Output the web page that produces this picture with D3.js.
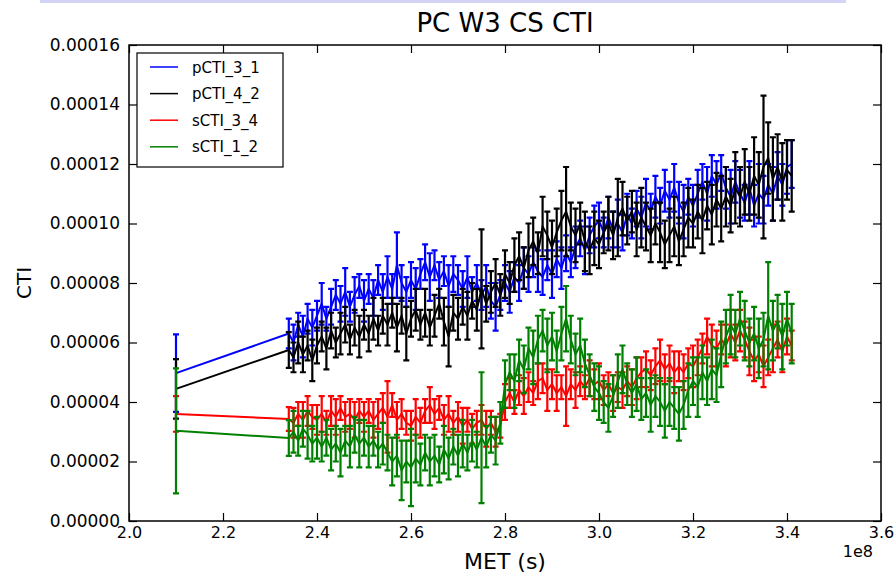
<!DOCTYPE html>
<html>
<head>
<meta charset="utf-8">
<script src="https://cdn.jsdelivr.net/npm/d3@7"></script>
<style>
body { margin: 0; background: #fff; }
text { font-family: "DejaVu Sans", sans-serif; fill: #000; }
</style>
</head>
<body>
<svg width="894" height="574"></svg>
<script>
// MET in units of 1e8 s, CTI values and error bars in units of 1e-5
const met = [2.10,
  2.34,2.35,2.36,2.37,2.38,2.39,2.40,2.41,2.42,2.43,
  2.44,2.45,2.46,2.47,2.48,2.49,2.50,2.51,2.52,2.53,
  2.54,2.55,2.56,2.57,2.58,2.59,2.60,2.61,2.62,2.63,
  2.64,2.65,2.66,2.67,2.68,2.69,2.70,2.71,2.72,2.73,
  2.74,2.75,2.76,2.77,2.78,2.79,2.80,2.81,2.82,2.83,
  2.84,2.85,2.86,2.87,2.88,2.89,2.90,2.91,2.92,2.93,
  2.94,2.95,2.96,2.97,2.98,2.99,3.00,3.01,3.02,3.03,
  3.04,3.05,3.06,3.07,3.08,3.09,3.10,3.11,3.12,3.13,
  3.14,3.15,3.16,3.17,3.18,3.19,3.20,3.21,3.22,3.23,
  3.24,3.25,3.26,3.27,3.28,3.29,3.30,3.31,3.32,3.33,
  3.34,3.35,3.36,3.37,3.38,3.39,3.40,3.41];

const pCTI_3_1 = [4.97,
  6.3,6.0,6.6,6.2,6.8,6.5,6.9,7.3,6.8,7.2,
  7.6,7.3,7.7,7.2,7.6,7.9,7.4,7.8,7.5,8.1,
  7.7,8.2,7.8,8.6,8.0,7.7,8.1,7.8,8.3,8.7,
  8.2,8.6,8.1,8.4,7.9,8.3,8.1,7.8,8.2,7.7,
  8.0,7.6,7.9,7.4,7.2,7.6,8.0,7.7,8.2,8.0,
  8.5,8.3,8.7,8.4,8.2,8.6,8.3,8.8,8.5,9.0,
  8.7,9.2,9.5,9.1,9.6,9.9,10.1,9.7,10.2,9.8,
  10.0,9.7,10.3,10.0,10.5,10.2,10.7,10.4,10.9,10.6,
  11.1,10.8,11.2,10.7,10.4,10.9,10.6,11.0,11.4,11.0,
  11.6,11.3,11.7,11.2,10.9,11.4,11.0,10.7,11.2,10.6,
  11.0,10.8,11.3,11.0,11.6,11.3,11.9,12.0];
const pCTI_3_1_err = [1.3,
  0.5,0.6,0.4,0.7,0.5,0.6,0.5,0.7,0.4,0.6,
  0.5,0.6,0.8,0.5,0.6,0.4,0.7,0.5,0.6,0.5,
  0.6,0.7,0.5,1.1,0.6,0.5,0.6,0.7,0.5,0.6,
  0.8,0.5,0.6,0.5,0.7,0.6,0.5,0.6,0.7,0.5,
  0.6,0.5,0.7,0.6,0.8,0.5,0.6,0.7,0.5,0.6,
  0.7,0.6,0.5,0.7,0.6,0.5,0.8,0.6,0.7,0.6,
  0.5,0.7,0.6,0.8,0.6,0.7,0.6,0.5,0.7,0.6,
  0.8,0.6,0.7,0.5,0.6,0.7,0.8,0.6,0.7,0.6,
  0.7,0.6,0.8,0.7,0.9,0.6,0.7,0.8,0.6,0.9,
  0.7,0.8,0.6,0.7,0.9,0.7,0.8,0.6,0.9,0.7,
  1.0,0.8,0.7,0.9,0.8,0.7,0.9,0.8];

const pCTI_4_2 = [4.44,
  5.75,5.5,6.0,5.6,5.9,5.4,5.9,6.2,5.8,6.4,
  6.0,6.3,6.6,6.1,6.5,6.2,6.6,6.3,6.8,6.4,
  6.9,6.6,7.0,6.5,6.9,6.3,6.8,7.1,6.6,7.0,
  6.5,6.9,7.3,6.7,6.2,7.0,6.8,7.2,6.9,7.4,
  7.1,7.8,7.3,7.7,8.0,7.6,8.3,8.0,8.6,8.9,
  8.5,9.1,9.4,9.0,9.9,9.6,9.2,9.7,10.1,10.4,
  9.9,9.6,10.0,9.4,9.1,9.5,9.3,9.7,10.0,9.6,
  10.2,10.5,10.1,10.4,9.8,10.2,9.9,9.6,10.0,9.7,
  9.3,9.6,9.9,9.4,9.8,10.2,10.0,10.4,10.1,10.6,
  10.3,10.8,10.5,10.9,10.6,11.2,10.9,11.4,11.0,11.6,
  11.3,11.9,12.2,11.5,11.9,11.4,11.8,11.6];
const pCTI_4_2_err = [1.0,
  0.6,0.5,0.7,0.6,0.5,0.7,0.6,0.5,0.7,0.6,
  0.5,0.7,0.6,0.5,0.6,0.7,0.5,0.6,0.7,0.5,
  0.6,0.7,0.5,0.8,0.6,0.9,0.6,0.7,0.5,0.8,
  0.6,0.7,0.5,0.8,1.0,0.6,0.7,0.6,0.8,0.6,
  0.7,2.0,0.6,0.7,0.8,0.7,0.8,0.7,0.9,0.8,
  0.7,0.9,0.8,0.7,1.0,0.8,0.9,0.8,1.0,1.5,
  0.8,0.9,0.7,1.0,0.8,0.9,0.8,0.7,0.9,0.8,
  1.3,0.9,0.8,0.7,0.9,1.0,0.8,0.9,0.7,1.0,
  0.8,0.9,1.0,0.8,0.9,1.0,0.8,0.9,1.1,0.8,
  1.0,0.9,1.1,1.0,0.9,1.2,1.0,1.1,0.9,1.3,
  1.1,2.4,1.2,1.4,1.1,1.3,1.0,1.2];

const sCTI_3_4 = [3.6,
  3.43,3.3,3.6,3.4,3.7,3.5,3.4,3.6,3.3,3.7,
  3.5,3.8,3.5,3.6,3.4,3.7,3.5,3.7,3.4,3.6,
  3.8,3.5,3.9,3.4,3.6,3.3,3.2,3.5,3.3,3.7,
  3.9,3.6,3.8,3.4,3.6,3.3,3.5,3.2,3.4,3.1,
  3.3,3.4,3.1,3.3,3.0,3.2,4.0,4.3,4.0,4.4,
  4.2,4.5,4.3,4.7,4.8,4.4,4.6,4.3,4.5,4.2,
  4.6,4.4,4.7,4.5,4.8,4.6,4.7,4.4,4.6,4.3,
  4.5,4.4,4.7,4.5,4.8,5.0,5.1,4.9,5.2,5.4,
  5.1,5.3,5.0,5.2,5.0,5.3,5.2,5.5,5.8,6.2,
  5.9,5.8,6.1,5.9,6.3,6.0,6.4,6.1,5.7,5.4,
  5.6,5.2,5.5,5.8,6.1,5.7,6.2,5.9];
const sCTI_3_4_err = [0.6,
  0.4,0.5,0.4,0.6,0.5,0.4,0.5,0.6,0.4,0.5,
  0.6,0.4,0.5,0.5,0.6,0.4,0.5,0.4,0.6,0.5,
  0.5,1.2,0.4,0.6,0.5,0.4,0.5,0.6,0.5,0.4,
  0.6,0.5,0.4,0.5,0.6,0.4,0.5,0.6,0.4,0.5,
  0.4,0.5,0.6,0.4,0.5,0.4,0.6,0.5,0.4,0.5,
  0.6,0.5,0.4,0.6,0.5,0.7,0.5,0.6,0.4,1.0,
  0.5,0.6,0.5,0.4,0.6,0.5,0.6,0.5,0.4,0.6,
  0.5,0.6,0.5,0.6,0.7,0.5,0.6,0.5,0.6,0.7,
  0.5,0.6,0.7,0.5,0.6,0.5,0.7,0.6,0.5,0.6,
  0.7,0.6,0.5,0.7,0.8,0.6,0.7,0.6,0.8,0.7,
  0.6,0.7,0.6,0.8,0.6,0.7,0.6,0.5];

const sCTI_1_2 = [3.03,
  2.79,3.0,2.7,3.1,2.9,2.6,2.8,2.5,2.8,2.4,
  2.6,2.3,2.7,2.5,2.9,2.6,2.8,2.5,2.7,2.4,
  2.6,2.3,2.0,2.2,1.7,2.0,1.8,2.1,1.9,2.3,
  2.0,2.2,1.9,2.4,2.1,2.5,2.2,2.6,2.3,2.7,
  2.4,2.8,2.5,2.9,2.7,3.3,4.6,5.0,4.7,5.4,
  5.1,5.8,5.5,6.1,6.4,5.9,6.2,5.7,6.3,6.8,
  6.1,5.6,5.9,5.3,4.9,4.5,4.3,4.0,3.8,4.2,
  4.7,5.1,4.6,4.3,4.6,4.1,4.3,3.9,4.2,4.0,
  3.7,4.0,3.8,3.6,3.9,4.4,4.7,4.5,5.0,4.7,
  5.1,4.9,5.6,6.2,6.6,6.3,6.8,6.4,6.0,6.3,
  5.8,6.1,6.9,6.4,6.7,6.2,6.8,6.3];
const sCTI_1_2_err = [2.1,
  0.6,0.7,0.5,0.6,0.8,0.6,0.7,0.5,0.6,0.7,
  0.6,0.8,0.5,0.7,0.6,0.8,0.6,0.7,0.5,0.6,
  0.7,0.6,0.8,0.7,1.0,0.7,1.3,0.8,0.7,0.6,
  0.8,0.7,0.6,0.8,0.7,0.6,0.7,0.8,0.6,0.7,
  0.6,2.2,0.7,0.6,0.8,0.7,0.8,0.6,0.9,0.7,
  0.8,0.7,0.9,0.8,0.7,0.9,0.8,0.7,0.9,1.1,
  0.8,0.7,0.9,0.8,0.7,0.8,0.9,0.7,0.8,0.7,
  0.9,0.8,0.7,0.8,0.9,0.7,0.8,0.9,0.7,0.8,
  0.9,0.8,0.7,0.9,0.8,0.9,0.8,1.0,0.9,0.8,
  1.0,0.9,1.1,0.9,1.0,0.8,0.9,1.0,0.8,0.9,
  1.0,0.9,1.8,1.0,0.9,1.1,0.9,1.0];

const seriesNames = ["pCTI_3_1", "pCTI_4_2", "sCTI_3_4", "sCTI_1_2"];
const seriesValues = [pCTI_3_1, pCTI_4_2, sCTI_3_4, sCTI_1_2];
const seriesErrors = [pCTI_3_1_err, pCTI_4_2_err, sCTI_3_4_err, sCTI_1_2_err];
const seriesColors = ["#0000ff", "#000000", "#ff0000", "#008000"];

const xTicks = [2.0, 2.2, 2.4, 2.6, 2.8, 3.0, 3.2, 3.4, 3.6];
const yTicks = [0, 2, 4, 6, 8, 10, 12, 14, 16];

var svg = d3.select("svg");
var plotL = 129, plotR = 881, plotT = 45, plotB = 521;

// faint band at the very top of the screenshot
svg.append("rect")
  .attr("x", 40).attr("y", 0).attr("width", 806).attr("height", 3)
  .attr("fill", "#d4d4f6");

var x = d3.scaleLinear().domain([2.0, 3.6]).range([plotL, plotR]);
var y = d3.scaleLinear().domain([0, 16]).range([plotB, plotT]);

var g = svg.append("g");

// series: line + error bars, drawn in legend order
seriesValues.forEach(function(vals, s) {
  var pts = met.map(function(m, i) { return {m: m, v: vals[i], e: seriesErrors[s][i]}; });
  var col = seriesColors[s];

  var bars = "";
  pts.forEach(function(p) {
    var px = x(p.m), y0 = y(p.v - p.e), y1 = y(p.v + p.e);
    bars += "M" + px + "," + y0 + "V" + y1;
    bars += "M" + (px - 3) + "," + y0 + "H" + (px + 3);
    bars += "M" + (px - 3) + "," + y1 + "H" + (px + 3);
  });
  g.append("path").attr("d", bars)
    .attr("fill", "none").attr("stroke", col).attr("stroke-width", 2.2);

  g.append("path").datum(pts)
    .attr("d", d3.line().x(function(d) { return x(d.m); }).y(function(d) { return y(d.v); }))
    .attr("fill", "none").attr("stroke", col).attr("stroke-width", 2);
});

// axes with inward ticks on all four sides
var fmtY = function(d) { return d3.format(".5f")(d * 1e-5); };
var fmtX = d3.format(".1f");

svg.append("g").attr("transform", "translate(0," + plotB + ")")
  .call(d3.axisBottom(x).tickValues(xTicks).tickFormat(fmtX).tickSizeInner(-8).tickSizeOuter(0).tickPadding(6))
  .call(function(a) { a.select(".domain").remove(); a.selectAll("text").attr("font-size", 16).attr("font-family", "DejaVu Sans"); });
svg.append("g").attr("transform", "translate(0," + plotT + ")")
  .call(d3.axisTop(x).tickValues(xTicks).tickFormat("").tickSizeInner(-8).tickSizeOuter(0))
  .call(function(a) { a.select(".domain").remove(); });
svg.append("g").attr("transform", "translate(" + plotL + ",0)")
  .call(d3.axisLeft(y).tickValues(yTicks).tickFormat(fmtY).tickSizeInner(-8).tickSizeOuter(0).tickPadding(9))
  .call(function(a) { a.select(".domain").remove(); a.selectAll("text").attr("font-size", 17).attr("font-family", "DejaVu Sans"); });
svg.append("g").attr("transform", "translate(" + plotR + ",0)")
  .call(d3.axisRight(y).tickValues(yTicks).tickFormat("").tickSizeInner(-8).tickSizeOuter(0))
  .call(function(a) { a.select(".domain").remove(); });

svg.selectAll(".tick line").attr("stroke", "#000").attr("stroke-width", 1.2);

svg.append("rect")
  .attr("x", plotL).attr("y", plotT).attr("width", plotR - plotL).attr("height", plotB - plotT)
  .attr("fill", "none").attr("stroke", "#000").attr("stroke-width", 1.5);

// texts
svg.append("text").attr("x", (plotL + plotR) / 2).attr("y", 32)
  .attr("text-anchor", "middle").attr("font-size", 26).text("PC W3 CS CTI");
svg.append("text").attr("x", (plotL + plotR) / 2).attr("y", 569)
  .attr("text-anchor", "middle").attr("font-size", 22).text("MET (s)");
svg.append("text").attr("transform", "translate(31," + (plotT + plotB) / 2 + ") rotate(-90)")
  .attr("text-anchor", "middle").attr("font-size", 20).text("CTI");
svg.append("text").attr("x", plotR - 8).attr("y", 557)
  .attr("text-anchor", "end").attr("font-size", 16).text("1e8");

// legend
var lg = svg.append("g").attr("transform", "translate(137,53)");
lg.append("rect").attr("width", 146).attr("height", 114)
  .attr("fill", "#fff").attr("stroke", "#000").attr("stroke-width", 1.2);
seriesNames.forEach(function(name, i) {
  var ly = 14 + i * 26.6;
  lg.append("line").attr("x1", 13).attr("x2", 41).attr("y1", ly).attr("y2", ly)
    .attr("stroke", seriesColors[i]).attr("stroke-width", 1.5);
  lg.append("text").attr("x", 55).attr("y", ly + 5.5).attr("font-size", 15).text(name);
});
</script>
</body>
</html>
